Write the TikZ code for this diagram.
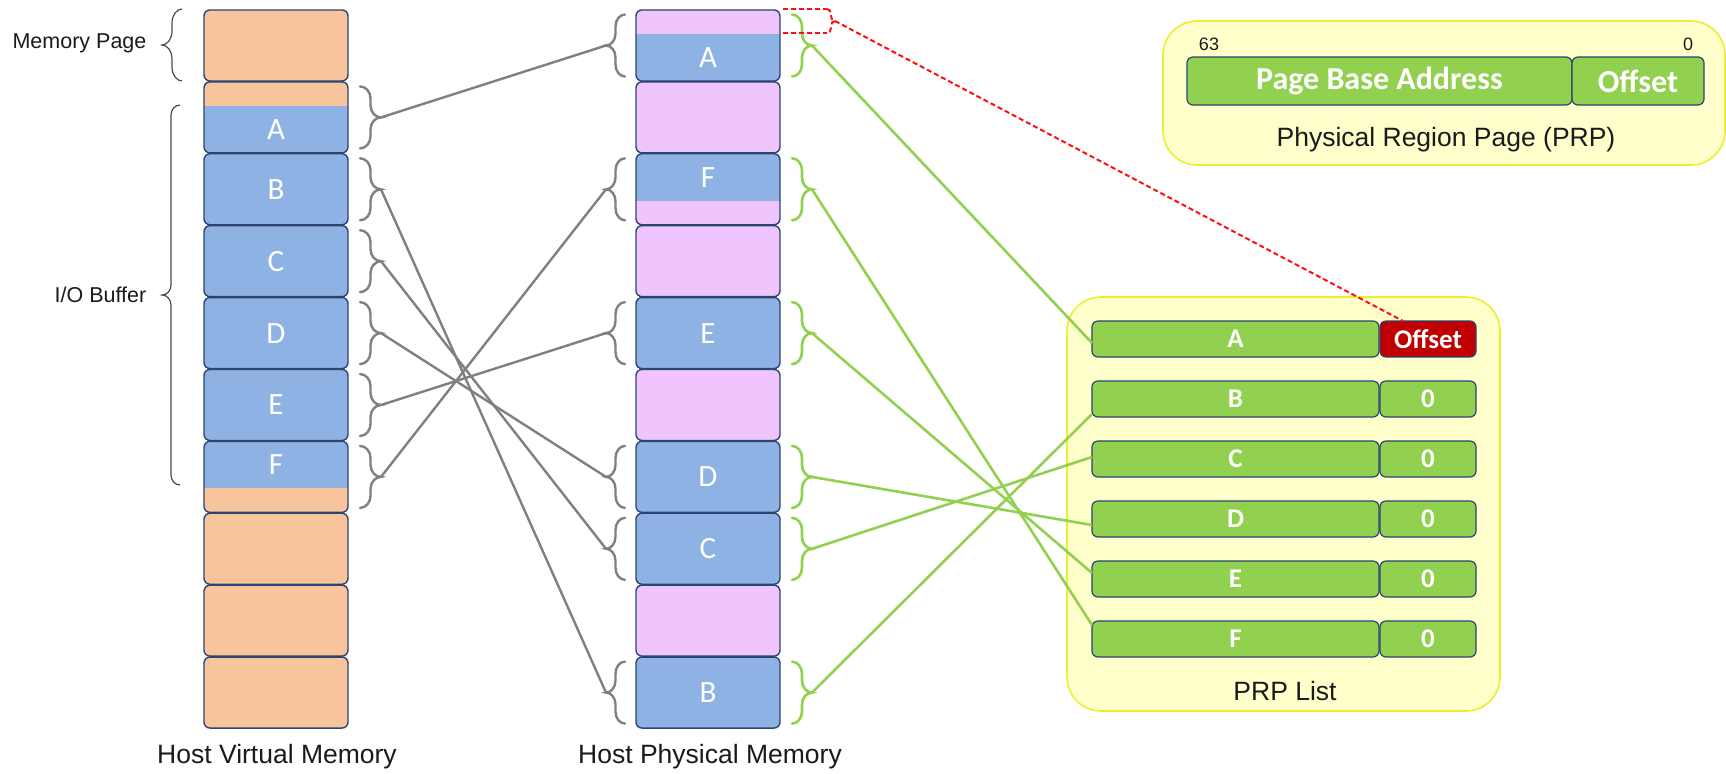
\documentclass[tikz,border=0pt]{standalone}
\usepackage{fontspec}
\setmainfont{Liberation Sans}
\newfontfamily\calfont{Carlito}
\usetikzlibrary{calc}

\definecolor{pgorange}{HTML}{F8C49C}
\definecolor{pgblue}{HTML}{8EB2E3}
\definecolor{pgpink}{HTML}{F0C4FD}
\definecolor{pgedge}{HTML}{2B4570}
\definecolor{prpgreen}{HTML}{92D050}
\definecolor{prpred}{HTML}{C00000}
\definecolor{panelfill}{HTML}{FFFFCC}
\definecolor{paneledge}{HTML}{EEEE30}
\definecolor{mapgray}{HTML}{808080}
\definecolor{dashred}{HTML}{FF1010}
\definecolor{labelink}{HTML}{1A1A1A}

% curly brace: style, x of open side, top y, bottom y, signed width, corner size, tip name
\newcommand\pagebrace[7]{%
  \pgfmathsetmacro\bym{(#3+#4)/2}%
  \pgfmathsetmacro\bh{(#5)/2}%
  \draw[#1] (#2,#3)
    .. controls ({#2+0.55*\bh},{#3}) and ({#2+\bh},{#3+0.45*#6}) .. ({#2+\bh},{#3+#6})
    -- ({#2+\bh},{\bym-#6})
    .. controls ({#2+\bh},{\bym-0.45*#6}) and ({#2+1.45*\bh},{\bym}) .. ({#2+(#5)},{\bym}) coordinate (#7)
    .. controls ({#2+1.45*\bh},{\bym}) and ({#2+\bh},{\bym+0.45*#6}) .. ({#2+\bh},{\bym+#6})
    -- ({#2+\bh},{#4-#6})
    .. controls ({#2+\bh},{#4-0.45*#6}) and ({#2+0.55*\bh},{#4}) .. (#2,#4);%
}

\begin{document}
\begin{tikzpicture}[x=0.5pt,y=-0.5pt,
  page/.style={rectangle, rounded corners=3pt, draw=pgedge, line width=0.7pt,
    minimum width=72pt, minimum height=35.5pt, inner sep=0pt, outer sep=0pt,
    text=white, font=\calfont\fontsize{15.5}{18}\selectfont},
  orng/.style={page, fill=pgorange},
  pinkpg/.style={page, fill=pgpink},
  bluepg/.style={page, fill=pgblue},
  lowsplit/.style={page, fill=#1, path picture={\fill[pgblue, sharp corners]
      (path picture bounding box.south west) rectangle
      ([yshift=-12pt]path picture bounding box.north east);}},
  highsplit/.style={page, fill=#1, path picture={\fill[pgblue, sharp corners]
      ([yshift=12pt]path picture bounding box.south west) rectangle
      (path picture bounding box.north east);}},
  letter/.style={text=white, inner sep=0pt, font=\calfont\fontsize{15.5}{18}\selectfont},
  entry/.style={rectangle, rounded corners=3pt, draw=pgedge, line width=0.6pt,
    fill=prpgreen, minimum height=18pt, inner sep=0pt, outer sep=0pt,
    text=white, font=\calfont\bfseries\fontsize{13.5}{16}\selectfont},
  mainfield/.style={entry, minimum width=143.5pt},
  offfield/.style={entry, minimum width=48pt},
  panel/.style={rectangle, rounded corners=17pt, fill=panelfill, draw=paneledge,
    line width=0.8pt, inner sep=0pt},
  caption/.style={text=labelink, inner sep=0pt, font=\fontsize{13.25}{16}\selectfont},
  sidelabel/.style={text=labelink, inner sep=0pt, font=\fontsize{10.75}{13}\selectfont},
  graybrace/.style={draw=mapgray, line width=1.2pt, line cap=round},
  greenbrace/.style={draw=prpgreen, line width=1.3pt, line cap=round},
  darkbrace/.style={draw=labelink!80, line width=0.6pt},
  reddash/.style={draw=dashred, line width=1pt, dash pattern=on 2.5pt off 1.5pt},
  graymap/.style={draw=mapgray, line width=1.2pt},
  greenmap/.style={draw=prpgreen, line width=1.3pt}]

\useasboundingbox (0,0) rectangle (1726,773);

% ---------- panels ----------
\node[panel, minimum width=281pt, minimum height=72pt] (prpPanel) at (1444,93) {};
\node[panel, minimum width=216.5pt, minimum height=207pt] (listPanel) at (1283.5,504) {};

% ---------- host virtual memory ----------
\node[orng] (v0) at (276,45.45) {};
\node[lowsplit=pgorange] (v1) at (276,117.35) {};
\node[letter] (vA) at ([yshift=-6pt]v1.center) {A};
\node[bluepg] (v2) at (276,189.25) {B};
\node[bluepg] (v3) at (276,261.15) {C};
\node[bluepg] (v4) at (276,333.05) {D};
\node[bluepg] (v5) at (276,404.95) {E};
\node[highsplit=pgorange] (v6) at (276,476.85) {};
\node[letter] (vF) at ([yshift=6pt]v6.center) {F};
\node[orng] (v7) at (276,548.75) {};
\node[orng] (v8) at (276,620.65) {};
\node[orng] (v9) at (276,692.55) {};

% ---------- host physical memory ----------
\node[lowsplit=pgpink] (p0) at (708,45.45) {};
\node[letter] (pA) at ([yshift=-6pt]p0.center) {A};
\node[pinkpg] (p1) at (708,117.35) {};
\node[highsplit=pgpink] (p2) at (708,189.25) {};
\node[letter] (pF) at ([yshift=6pt]p2.center) {F};
\node[pinkpg] (p3) at (708,261.15) {};
\node[bluepg] (p4) at (708,333.05) {E};
\node[pinkpg] (p5) at (708,404.95) {};
\node[bluepg] (p6) at (708,476.85) {D};
\node[bluepg] (p7) at (708,548.75) {C};
\node[pinkpg] (p8) at (708,620.65) {};
\node[bluepg] (p9) at (708,692.55) {B};

% ---------- side labels ----------
\node[sidelabel] (memPageLbl) at (79.5,43) {Memory Page};
\pagebrace{darkbrace}{182}{9}{81}{-20}{14}{memPageTip}
\node[sidelabel] (ioLbl) at (100.5,295) {I/O Buffer};
\pagebrace{darkbrace}{180}{105}{485}{-18}{10}{ioTip}
\node[caption] (hvmLbl) at (277,757) {Host Virtual Memory};
\node[caption] (hpmLbl) at (710,757) {Host Physical Memory};

% ---------- braces beside the pages ----------
\foreach \k in {1,...,6}{
  \pagebrace{graybrace}{360}{9.5+71.9*\k+5}{9.5+71.9*\k+67}{21}{12}{vb\k}
}
\foreach \k in {0,2,4,6,7,9}{
  \pagebrace{graybrace}{625}{9.5+71.9*\k+5}{9.5+71.9*\k+67}{-19}{12}{pl\k}
  \pagebrace{greenbrace}{792}{9.5+71.9*\k+5}{9.5+71.9*\k+67}{20}{12}{pr\k}
}

% ---------- PRP format ----------
\node[entry, minimum width=192.5pt, minimum height=24pt,
      font=\calfont\bfseries\fontsize{16}{19}\selectfont] (hBase) at (1379.5,81) {Page Base Address};
\node[entry, minimum width=66pt, minimum height=24pt,
      font=\calfont\bfseries\fontsize{16}{19}\selectfont] (hOff) at (1638,81) {Offset};
\node[text=labelink, inner sep=0pt, font=\fontsize{9}{11}\selectfont] (bit63) at (1209,44) {63};
\node[text=labelink, inner sep=0pt, font=\fontsize{9}{11}\selectfont] (bit0) at (1688,44) {0};
\node[caption] (prpCap) at (1446,140) {Physical Region Page (PRP)};

% ---------- PRP list ----------
\node[mainfield] (eA) at (1235.5,339) {A};
\node[offfield, fill=prpred] (oA) at (1428,339) {Offset};
\node[mainfield] (eB) at (1235.5,399) {B};
\node[offfield] (oB) at (1428,399) {0};
\node[mainfield] (eC) at (1235.5,459) {C};
\node[offfield] (oC) at (1428,459) {0};
\node[mainfield] (eD) at (1235.5,519) {D};
\node[offfield] (oD) at (1428,519) {0};
\node[mainfield] (eE) at (1235.5,579) {E};
\node[offfield] (oE) at (1428,579) {0};
\node[mainfield] (eF) at (1235.5,639) {F};
\node[offfield] (oF) at (1428,639) {0};
\node[caption] (listCap) at (1285,691) {PRP List};

% ---------- virtual to physical mapping ----------
\draw[graymap] (vb1) -- (pl0);
\draw[graymap] (vb2) -- (pl9);
\draw[graymap] (vb3) -- (pl7);
\draw[graymap] (vb4) -- (pl6);
\draw[graymap] (vb5) -- (pl4);
\draw[graymap] (vb6) -- (pl2);

% ---------- physical pages to PRP entries ----------
\draw[greenmap] (pr0) -- ($(eA.west)+(0,4)$);
\draw[greenmap] (pr9) -- ($(eB.west)+(0,15)$);
\draw[greenmap] (pr7) -- ($(eC.west)+(0,-2)$);
\draw[greenmap] (pr6) -- ($(eD.west)+(0,6)$);
\draw[greenmap] (pr4) -- ($(eE.west)+(0,-6)$);
\draw[greenmap] (pr2) -- ($(eF.west)+(0,-14)$);

% ---------- offset inside the first page ----------
\draw[reddash] (783,9) -- (827,9);
\draw[reddash] (783,33) -- (827,33);
\pagebrace{reddash}{827}{9}{33}{8}{5}{redTip}
\draw[reddash] (redTip) -- ($(oA.north)+(-25,0)$);

\end{tikzpicture}
\end{document}
